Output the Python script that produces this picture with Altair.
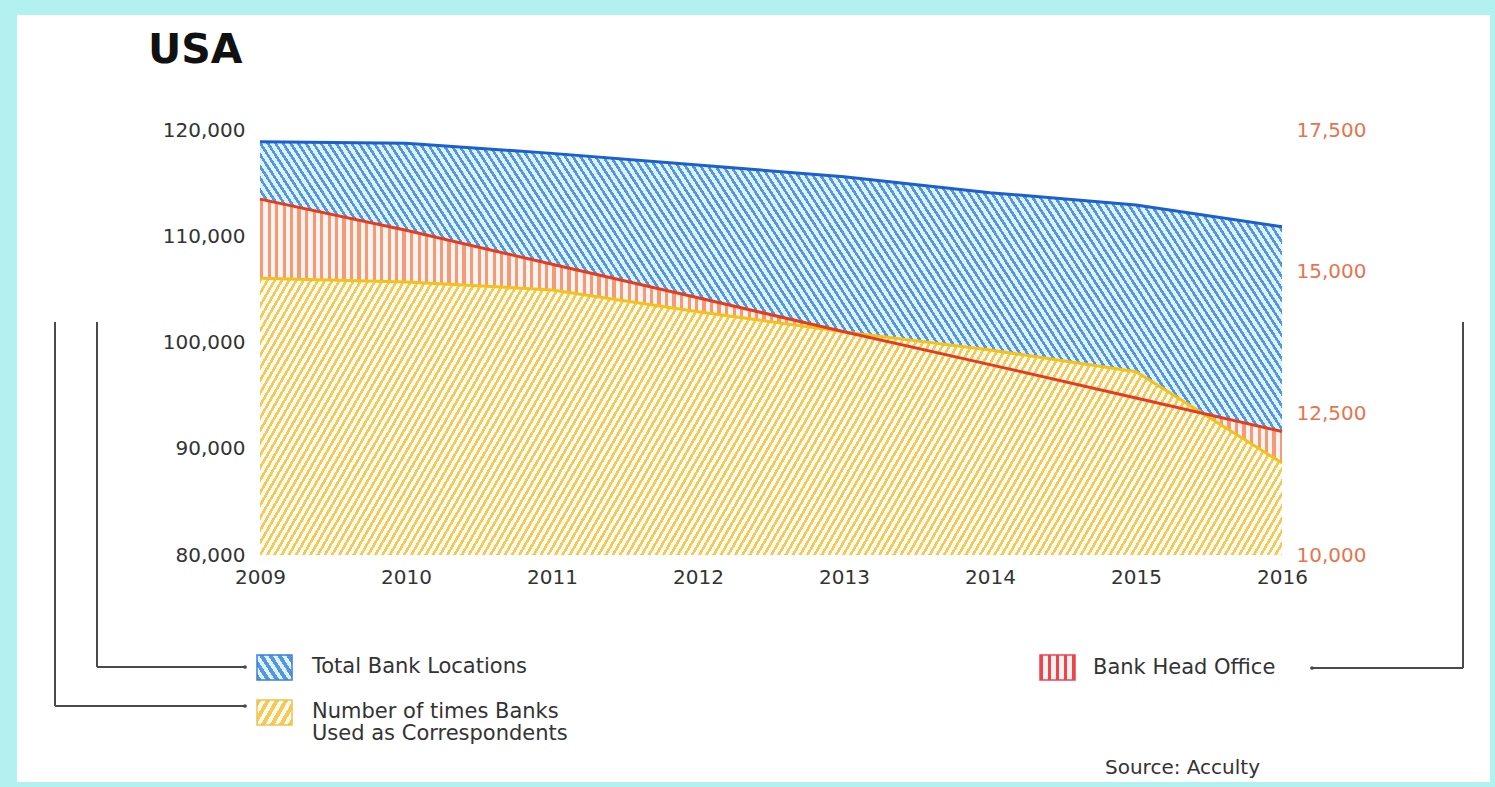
import math
import altair as alt
import pandas as pd

# ---- data -------------------------------------------------------------
years = [2009, 2010, 2011, 2012, 2013, 2014, 2015, 2016]
total_bank_locations = [118900, 118750, 117800, 116700, 115600, 114100, 112950, 110900]
correspondent_uses = [106050, 105700, 104950, 102900, 101000, 99300, 97250, 88650]
head_offices = [16280, 15730, 15130, 14540, 13940, 13360, 12770, 12180]

left_ticks = [80000, 90000, 100000, 110000, 120000]
right_ticks = [10000, 12500, 15000, 17500]

title_text = "USA"
label_total = "Total Bank Locations"
label_corr = ["Number of times Banks", "Used as Correspondents"]
label_head = "Bank Head Office"
source_text = "Source: Acculty"

# ---- layout & style ---------------------------------------------------
W, H = 1022, 425
LEFT_DOMAIN = [80000, 120000]
RIGHT_DOMAIN = [10000, 17500]
FONT = "DejaVu Sans"
TEXT = "#333333"

BLUE_LINE, BLUE_STRIPE, BLUE_GAP = "#1c5fd0", "#5497de", "#dcf3fd"
YEL_LINE, YEL_STRIPE, YEL_GAP = "#f3c21a", "#f4ca55", "#fffbf2"
RED_LINE, RED_STRIPE, RED_GAP = "#e23d1f", "#f29a7c", "#fff3ee"
ORANGE_TEXT = "#e5744f"
FRAME = "#b1f1ef"


def hatch(stripe, gap, angle, spacing, box_w, box_h, duty=0.5):
    """Striped fill built from a linear gradient in bounding-box units.

    angle: stripe angle from horizontal in degrees; positive rises to the
    right ("/"), negative falls ("\\"), 90 is vertical.
    spacing: horizontal distance between stripes, in pixels.
    """
    a = math.radians(abs(angle))
    nx = math.sin(a)
    ny = math.cos(a) if angle >= 0 else -math.cos(a)
    if abs(ny) < 1e-9:
        ny = 0.0
    cx = 0.0 if nx >= 0 else 1.0
    cy = 0.0 if ny >= 0 else 1.0
    span = box_w * abs(nx) + box_h * abs(ny)
    k = span / (box_w ** 2 * nx ** 2 + box_h ** 2 * ny ** 2)
    perp = spacing * math.sin(a)
    step = perp / span
    stops = []
    t = 0.0
    while t < 1.0:
        mid = min(t + step * duty, 1.0)
        end = min(t + step, 1.0)
        stops += [
            alt.GradientStop(offset=round(t, 5), color=stripe),
            alt.GradientStop(offset=round(mid, 5), color=stripe),
            alt.GradientStop(offset=round(mid, 5), color=gap),
            alt.GradientStop(offset=round(end, 5), color=gap),
        ]
        t = end
    return alt.LinearGradient(
        gradient="linear",
        stops=stops,
        x1=cx,
        y1=cy,
        x2=round(cx + k * box_w * nx, 6),
        y2=round(cy + k * box_h * ny, 6),
    )


def left_px(v):
    return H * (LEFT_DOMAIN[1] - v) / (LEFT_DOMAIN[1] - LEFT_DOMAIN[0])


blue_fill = hatch(BLUE_STRIPE, BLUE_GAP, -57, 7.6, W, H - left_px(max(total_bank_locations)), duty=0.42)
yel_fill = hatch(YEL_STRIPE, YEL_GAP, 60, 7.2, W, H - left_px(max(correspondent_uses)), duty=0.42)
red_fill = hatch(RED_STRIPE, RED_GAP, 90, 7.5, W, H, duty=0.42)

df = pd.DataFrame({
    "year": years,
    "total": total_bank_locations,
    "corr": correspondent_uses,
    "head": head_offices,
})
one = pd.DataFrame({"k": [0]})

x_enc = alt.X(
    "year:Q",
    scale=alt.Scale(domain=[years[0], years[-1]], nice=False, zero=False),
    axis=alt.Axis(
        values=years, format="d", title=None, domain=False, ticks=False, grid=False,
        labelFlush=False, labelOverlap=False, labelPadding=12, labelFont=FONT,
        labelFontSize=20, labelColor=TEXT, zindex=1,
    ),
)


def left_y(field, show=False):
    axis = None
    if show:
        axis = alt.Axis(
            values=left_ticks, format=",d", title=None, domain=False, ticks=False,
            grid=False, labelPadding=15, labelFont=FONT, labelFontSize=20,
            labelColor=TEXT, labelFlush=False, labelOverlap=False, zindex=1,
        )
    return alt.Y(f"{field}:Q", scale=alt.Scale(domain=LEFT_DOMAIN, nice=False, zero=False), axis=axis)


def right_y(field, show=False):
    axis = None
    if show:
        axis = alt.Axis(
            orient="right", values=right_ticks, format=",d", title=None, domain=False,
            ticks=False, grid=False, labelPadding=14, labelFont=FONT, labelFontSize=20,
            labelColor=ORANGE_TEXT, labelFlush=False, labelOverlap=False, zindex=1,
        )
    return alt.Y(f"{field}:Q", scale=alt.Scale(domain=RIGHT_DOMAIN, nice=False, zero=False), axis=axis)


base = alt.Chart(df)

# white card on the cyan background
card = alt.Chart(one).mark_rect(fill="white").encode(
    x=alt.value(-243), x2=alt.value(1230), y=alt.value(-115), y2=alt.value(652)
)

blue_area = base.mark_area(fill=blue_fill, clip=True).encode(
    x=x_enc, y=left_y("total", True), y2=alt.datum(LEFT_DOMAIN[0])
)
red_area = base.mark_area(fill=red_fill, clip=True).encode(
    x=x_enc, y=right_y("head"), y2=alt.datum(RIGHT_DOMAIN[0])
)
yel_area = base.mark_area(fill=yel_fill, clip=True).encode(
    x=x_enc, y=left_y("corr"), y2=alt.datum(LEFT_DOMAIN[0])
)
blue_line = base.mark_line(color=BLUE_LINE, strokeWidth=3).encode(x=x_enc, y=left_y("total"))
yel_line = base.mark_line(color=YEL_LINE, strokeWidth=3).encode(x=x_enc, y=left_y("corr"))
red_line = base.mark_line(color=RED_LINE, strokeWidth=3).encode(x=x_enc, y=right_y("head", True))


def text_at(txt, x, y, size=21, weight="normal", color=TEXT, baseline="middle"):
    return alt.Chart(one).mark_text(
        text=txt, font=FONT, fontSize=size, fontWeight=weight, color=color,
        align="left", baseline=baseline,
    ).encode(x=alt.value(x), y=alt.value(y))


title = text_at(title_text, -112, -67, size=41, weight="bold", color="#111111", baseline="alphabetic")
t_total = text_at(label_total, 52, 537)
t_corr1 = text_at(label_corr[0], 52, 582)
t_corr2 = text_at(label_corr[1], 52, 604)
t_head = text_at(label_head, 833, 538)
t_source = text_at(source_text, 845, 638, size=20)


def swatch(fill, stroke, x, y):
    return alt.Chart(one).mark_rect(fill=fill, stroke=stroke, strokeWidth=1.5).encode(
        x=alt.value(x), x2=alt.value(x + 35), y=alt.value(y), y2=alt.value(y + 25)
    )


sw_blue = swatch(hatch(BLUE_STRIPE, BLUE_GAP, -57, 9, 35, 25), "#3f7fd6", -3, 525)
sw_yel = swatch(hatch(YEL_STRIPE, YEL_GAP, 60, 9, 35, 25), "#f2c14e", -3, 570)
sw_red = swatch(hatch("#e8474f", "#fff0ee", 90, 8, 35, 25, duty=0.35), "#e8474f", 780, 525)

LINK = "#4a4a4a"


def vrule(x, y1, y2):
    return alt.Chart(one).mark_rule(color=LINK, strokeWidth=2).encode(
        x=alt.value(x), y=alt.value(y1), y2=alt.value(y2)
    )


def hrule(x1, x2, y):
    return alt.Chart(one).mark_rule(color=LINK, strokeWidth=2).encode(
        x=alt.value(x1), x2=alt.value(x2), y=alt.value(y)
    )


def dot(x, y):
    return alt.Chart(one).mark_circle(color=LINK, size=14, opacity=1).encode(
        x=alt.value(x), y=alt.value(y)
    )


links = [
    vrule(-163, 192, 537), hrule(-163, -15, 537), dot(-15, 537),
    vrule(-205, 192, 576), hrule(-205, -15, 576), dot(-15, 576),
    vrule(1203, 192, 538), hrule(1052, 1203, 538), dot(1052, 538),
]

chart = alt.layer(
    card, blue_area, red_area, yel_area, blue_line, yel_line, red_line,
    title, t_total, t_corr1, t_corr2, t_head, t_source,
    sw_blue, sw_yel, sw_red, *links,
).resolve_scale(
    y="independent"
).properties(
    width=W,
    height=H,
    background=FRAME,
    padding={"left": 260, "top": 130, "right": 1495 - 260 - W, "bottom": 787 - 130 - H},
    autosize=alt.AutoSizeParams(type="none"),
).configure_view(stroke=None)

chart.save("out.html", embed_options={"renderer": "svg", "actions": False})
